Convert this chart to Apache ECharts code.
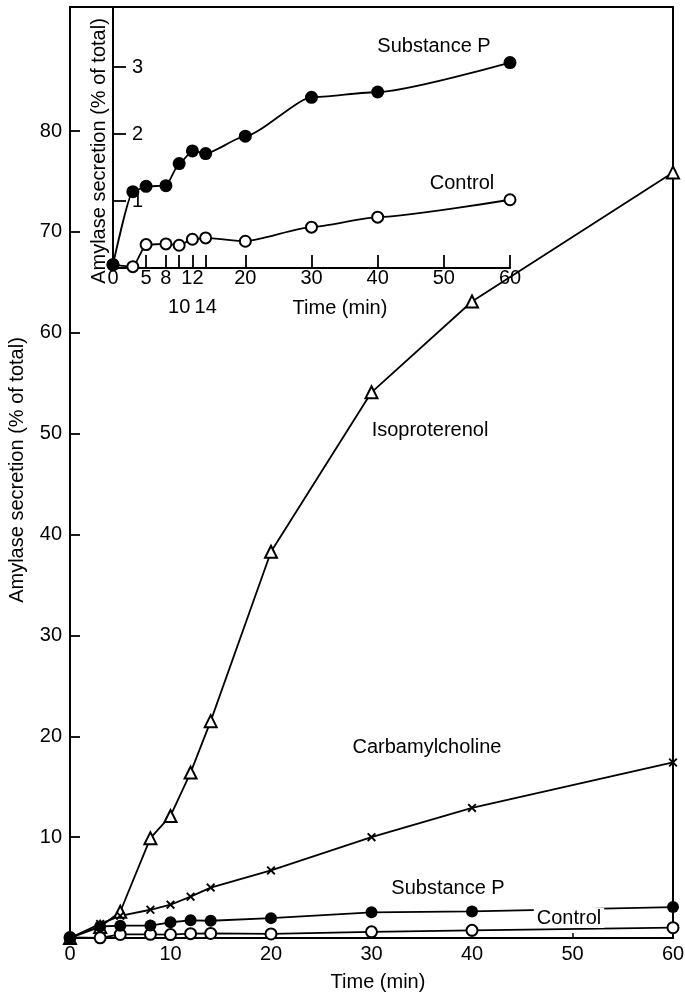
<!DOCTYPE html>
<html>
<head>
<meta charset="utf-8">
<script src="https://cdn.jsdelivr.net/npm/echarts@6/dist/echarts.min.js"></script>
<style>
html,body{margin:0;padding:0;background:#fff;}
#chart{width:685px;height:996px;}
</style>
</head>
<body>
<div id="chart"></div>
<script>
// ---- data ----
var times = [0, 3, 5, 8, 10, 12, 14, 20, 30, 40, 60];
var isoproterenol = [0, 1.1, 2.6, 9.9, 12.1, 16.4, 21.5, 38.3, 54.1, 63.1, 75.9];
var carbamylcholine = [0, 1.4, 2.2, 2.8, 3.3, 4.1, 5.0, 6.7, 10.0, 12.9, 17.4];
var substanceP = [0.05, 1.14, 1.22, 1.23, 1.56, 1.75, 1.71, 1.97, 2.55, 2.63, 3.07];
var control = [0.05, 0.02, 0.35, 0.36, 0.34, 0.43, 0.45, 0.40, 0.61, 0.76, 1.02];
var mainYTicks = [10, 20, 30, 40, 50, 60, 70, 80];
var mainXTicks = [0, 10, 20, 30, 40, 50, 60];
var insetXTicks = [0, 5, 8, 10, 12, 14, 20, 30, 40, 50, 60];
var insetXLowRow = [10, 14];
var insetYTicks = [1, 2, 3];

function pairs(xs, ys) { return xs.map(function (x, i) { return [x, ys[i]]; }); }

var FONT = '"Liberation Sans", Arial, Helvetica, sans-serif';
var crossPath = 'path://M0,1.5 L1.5,0 L5,3.5 L8.5,0 L10,1.5 L6.5,5 L10,8.5 L8.5,10 L5,6.5 L1.5,10 L0,8.5 L3.5,5 Z';

var chart = echarts.init(document.getElementById('chart'), null, {renderer: 'canvas'});
var lineStyle = {color: '#000', width: 1.8};
var txt = {color: '#000', fontFamily: FONT, fontSize: 20};

var option = {
  animation: false,
  backgroundColor: '#fff',
  grid: [
    {left: 70, top: 7, width: 603, height: 931, show: true, borderColor: '#000', borderWidth: 2,
      backgroundColor: 'transparent', containLabel: false, outerBoundsMode: 'none'},
    {left: 113, top: 7, width: 397, height: 261, show: false, containLabel: false, outerBoundsMode: 'none'}
  ],
  xAxis: [
    {
      gridIndex: 0, type: 'value', min: 0, max: 60, interval: 10,
      axisLine: {show: true, lineStyle: {color: '#000', width: 2}},
      axisTick: {show: true, inside: true, length: 5, lineStyle: {color: '#000', width: 1.5}, customValues: mainXTicks},
      axisLabel: {customValues: mainXTicks, margin: 6, color: '#000', fontFamily: FONT, fontSize: 20},
      splitLine: {show: false}
    },
    {
      gridIndex: 1, type: 'value', min: 0, max: 60,
      axisLine: {show: true, onZero: false, lineStyle: {color: '#000', width: 2}},
      axisTick: {show: true, inside: true, length: 13, lineStyle: {color: '#000', width: 1.8}, customValues: insetXTicks},
      axisLabel: {
        customValues: insetXTicks, margin: -4, lineHeight: 29, color: '#000', fontFamily: FONT, fontSize: 20,
        formatter: function (v) { return insetXLowRow.indexOf(v) >= 0 ? '\n' + v : '' + v; }
      },
      splitLine: {show: false}
    }
  ],
  yAxis: [
    {
      gridIndex: 0, type: 'value', min: 0, max: 92.3, interval: 10,
      axisLine: {show: true, lineStyle: {color: '#000', width: 2}},
      axisTick: {show: true, inside: true, length: 10, lineStyle: {color: '#000', width: 1.8}, customValues: mainYTicks},
      axisLabel: {customValues: mainYTicks, margin: 8, color: '#000', fontFamily: FONT, fontSize: 20},
      splitLine: {show: false}
    },
    {
      gridIndex: 1, type: 'value', min: 0, max: 3.9,
      axisLine: {show: true, onZero: false, lineStyle: {color: '#000', width: 2}},
      axisTick: {show: true, inside: true, length: 13, lineStyle: {color: '#000', width: 1.8}, customValues: insetYTicks},
      axisLabel: {customValues: insetYTicks, inside: true, margin: 19, color: '#000', fontFamily: FONT, fontSize: 20},
      splitLine: {show: false}
    }
  ],
  series: [
    {
      name: 'Isoproterenol', type: 'line', xAxisIndex: 0, yAxisIndex: 0,
      data: pairs(times, isoproterenol), lineStyle: lineStyle,
      symbol: 'triangle', symbolSize: 12,
      itemStyle: {color: '#fff', borderColor: '#000', borderWidth: 2}
    },
    {
      name: 'Carbamylcholine', type: 'line', xAxisIndex: 0, yAxisIndex: 0,
      data: pairs(times, carbamylcholine), lineStyle: lineStyle,
      symbol: crossPath, symbolSize: 9,
      itemStyle: {color: '#000', borderWidth: 0}
    },
    {
      name: 'Control', type: 'line', xAxisIndex: 0, yAxisIndex: 0,
      data: pairs(times, control), lineStyle: lineStyle,
      symbol: 'circle', symbolSize: 11,
      itemStyle: {color: '#fff', borderColor: '#000', borderWidth: 2}
    },
    {
      name: 'Substance P', type: 'line', xAxisIndex: 0, yAxisIndex: 0,
      data: pairs(times, substanceP), lineStyle: lineStyle,
      symbol: 'circle', symbolSize: 12,
      itemStyle: {color: '#000', borderColor: '#000', borderWidth: 0}
    },
    {
      name: 'Control (inset)', type: 'line', xAxisIndex: 1, yAxisIndex: 1,
      data: pairs(times, control), lineStyle: lineStyle, smooth: 0.2, smoothMonotone: 'x',
      symbol: 'circle', symbolSize: 11,
      itemStyle: {color: '#fff', borderColor: '#000', borderWidth: 2}
    },
    {
      name: 'Substance P (inset)', type: 'line', xAxisIndex: 1, yAxisIndex: 1,
      data: pairs(times, substanceP), lineStyle: lineStyle, smooth: 0.2, smoothMonotone: 'x',
      symbol: 'circle', symbolSize: 13,
      itemStyle: {color: '#000', borderWidth: 0}
    }
  ],
  graphic: [
    {type: 'text', x: 17, y: 470, rotation: Math.PI / 2, z: 100,
      style: Object.assign({text: 'Amylase secretion (% of total)', align: 'center', verticalAlign: 'middle'}, txt)},
    {type: 'text', x: 99, y: 151, rotation: Math.PI / 2, z: 100,
      style: Object.assign({text: 'Amylase secretion (% of total)', align: 'center', verticalAlign: 'middle'}, txt)},
    {type: 'text', x: 378, y: 982, z: 100,
      style: Object.assign({text: 'Time (min)', align: 'center', verticalAlign: 'middle'}, txt)},
    {type: 'text', x: 340, y: 308, z: 100,
      style: Object.assign({text: 'Time (min)', align: 'center', verticalAlign: 'middle'}, txt)},
    {type: 'text', x: 434, y: 46, z: 100,
      style: Object.assign({text: 'Substance P', align: 'center', verticalAlign: 'middle'}, txt)},
    {type: 'text', x: 462, y: 183, z: 100,
      style: Object.assign({text: 'Control', align: 'center', verticalAlign: 'middle'}, txt)},
    {type: 'text', x: 430, y: 430, z: 100,
      style: Object.assign({text: 'Isoproterenol', align: 'center', verticalAlign: 'middle'}, txt)},
    {type: 'text', x: 427, y: 747, z: 100,
      style: Object.assign({text: 'Carbamylcholine', align: 'center', verticalAlign: 'middle'}, txt)},
    {type: 'text', x: 448, y: 888, z: 100,
      style: Object.assign({text: 'Substance P', align: 'center', verticalAlign: 'middle'}, txt)},
    {type: 'text', x: 569, y: 918, z: 100,
      style: Object.assign({text: 'Control', align: 'center', verticalAlign: 'middle', backgroundColor: '#fff', padding: [0, 3, 0, 3]}, txt)}
  ]
};
chart.setOption(option);
</script>
</body>
</html>
